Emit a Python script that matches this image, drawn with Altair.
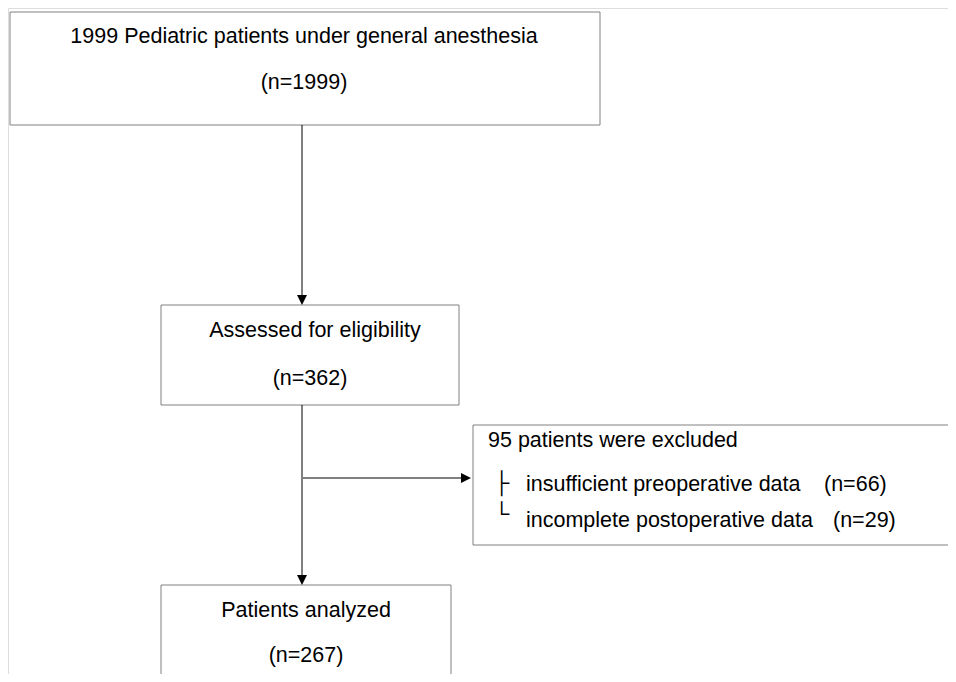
import altair as alt
import pandas as pd

# Flowchart geometry in picture pixels
box_x1 = [10, 161, 473, 161]
box_x2 = [600, 459, 970, 451]
box_y1 = [12, 305, 425, 585]
box_y2 = [125, 405, 545, 700]

line_x1 = [302, 302, 303]
line_x2 = [302, 302, 462]
line_y1 = [125, 405, 478]
line_y2 = [296, 576, 478]

down_x = [302, 302]
down_y = [300, 580]
right_x = [466]
right_y = [478]

center_text = ["1999 Pediatric patients under general anesthesia", "(n=1999)",
               "Assessed for eligibility", "(n=362)",
               "Patients analyzed", "(n=267)"]
center_x = [304, 304, 315, 310, 306, 306]
center_y = [37, 83, 331, 379, 611, 656]

left_text = ["95 patients were excluded", "├", "insufficient preoperative data", "(n=66)",
             "└", "incomplete postoperative data", "(n=29)"]
left_x = [488, 494, 526, 824, 494, 526, 833]
left_y = [441, 484, 485, 485, 515, 521, 521]

FS = 21.5
W, H = 940, 666
xs = alt.Scale(domain=[8, 948])
ys = alt.Scale(domain=[8, 674], reverse=True)
noax = dict(axis=None)

boxes = pd.DataFrame(dict(x1=box_x1, x2=box_x2, y1=box_y1, y2=box_y2))
lines = pd.DataFrame(dict(x1=line_x1, x2=line_x2, y1=line_y1, y2=line_y2))
downs = pd.DataFrame(dict(x=down_x, y=down_y))
rights = pd.DataFrame(dict(x=right_x, y=right_y))
ctext = pd.DataFrame(dict(t=center_text, x=center_x, y=center_y))
ltext = pd.DataFrame(dict(t=left_text, x=left_x, y=left_y))

rect_layer = alt.Chart(boxes).mark_rect(fill="white", stroke="#808080", strokeWidth=1).encode(
    x=alt.X("x1:Q", scale=xs, **noax), x2="x2:Q",
    y=alt.Y("y1:Q", scale=ys, **noax), y2="y2:Q")

rule_layer = alt.Chart(lines).mark_rule(color="black", strokeWidth=1).encode(
    x=alt.X("x1:Q", scale=xs, **noax), x2="x2:Q",
    y=alt.Y("y1:Q", scale=ys, **noax), y2="y2:Q")

down_layer = alt.Chart(downs).mark_point(shape="M-1,-1L1,-1L0,1Z", filled=True, color="black",
                                         opacity=1, size=100).encode(
    x=alt.X("x:Q", scale=xs, **noax), y=alt.Y("y:Q", scale=ys, **noax))

right_layer = alt.Chart(rights).mark_point(shape="M-1,-1L1,0L-1,1Z", filled=True, color="black",
                                           opacity=1, size=100).encode(
    x=alt.X("x:Q", scale=xs, **noax), y=alt.Y("y:Q", scale=ys, **noax))

ctext_layer = alt.Chart(ctext).mark_text(font="Liberation Sans", fontSize=FS, color="black",
                                         align="center", baseline="middle").encode(
    x=alt.X("x:Q", scale=xs, **noax), y=alt.Y("y:Q", scale=ys, **noax), text="t:N")

ltext_layer = alt.Chart(ltext).mark_text(font="Liberation Sans", fontSize=FS, color="black",
                                         align="left", baseline="middle").encode(
    x=alt.X("x:Q", scale=xs, **noax), y=alt.Y("y:Q", scale=ys, **noax), text="t:N")

chart = alt.layer(rect_layer, rule_layer, down_layer, right_layer, ctext_layer, ltext_layer).properties(
    width=W, height=H, padding=0, autosize=alt.AutoSizeParams(type="none")
).configure_view(stroke="transparent", strokeWidth=0).configure(background="white")

chart.save("out.html", embed_options={"renderer": "svg", "actions": False})
